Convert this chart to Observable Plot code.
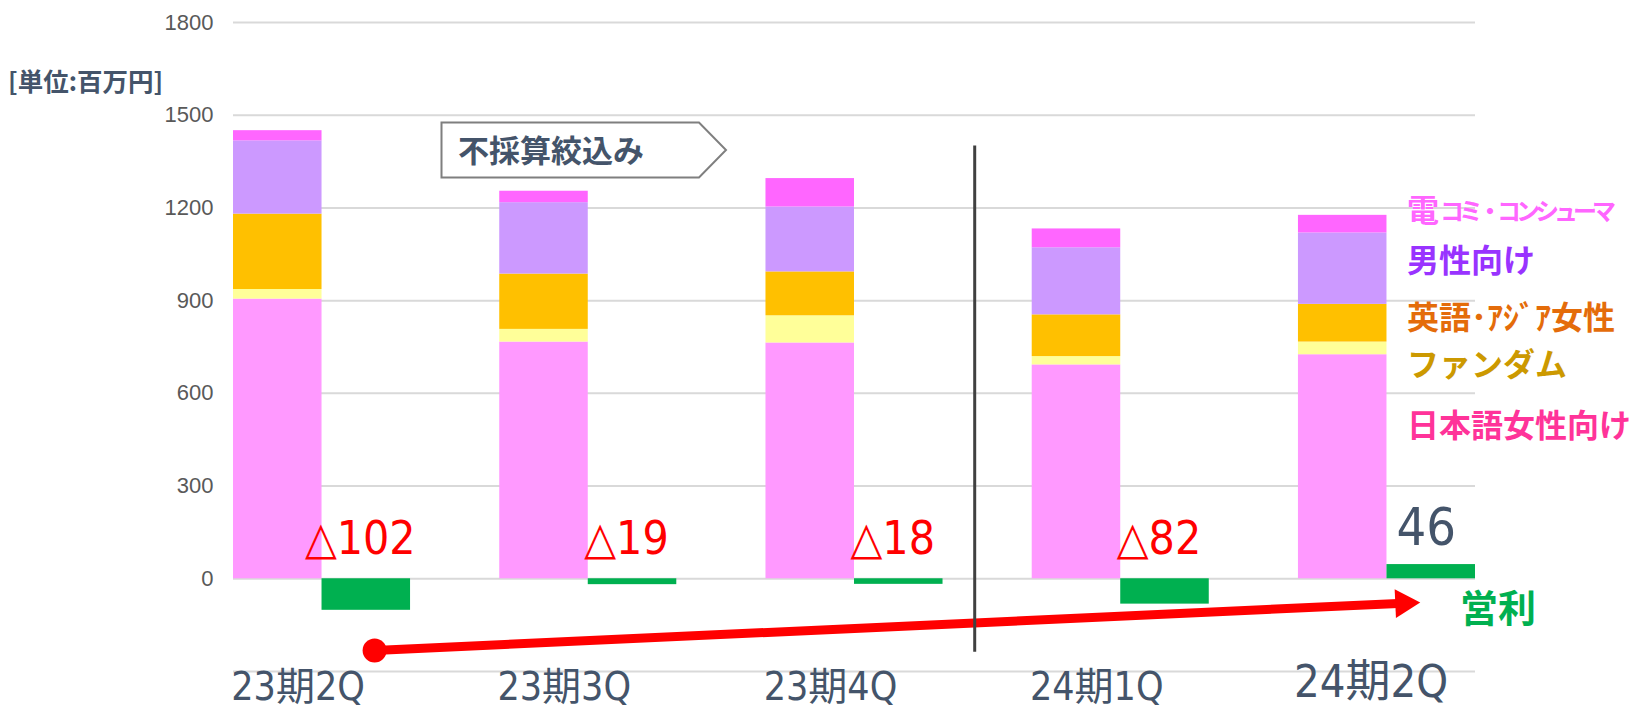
<!DOCTYPE html>
<html>
<head>
<meta charset="utf-8">
<script src="https://cdn.jsdelivr.net/npm/d3@7"></script>
<script src="https://cdn.jsdelivr.net/npm/@observablehq/plot@0.6"></script>
<style>
  html, body { margin: 0; padding: 0; background: #fff; }
  #wrap { position: relative; width: 1646px; height: 708px; overflow: hidden; }
  #unit { position: absolute; left: 8px; top: 61px; font: bold 25.5px "Noto Sans CJK JP", sans-serif; color: #44546A; }
  #callout { position: absolute; left: 440px; top: 121px; }
</style>
</head>
<body>
<div id="wrap">
  <div id="chart"></div>
  <div id="unit">[単位:百万円]</div>
  <svg id="callout" width="290" height="60">
    <path d="M1.5,1.5 H259 L286,29 L259,56.5 H1.5 Z" fill="#fff" stroke="#7F7F7F" stroke-width="2"/>
    <text x="18" y="41" font-family="Noto Sans CJK JP, sans-serif" font-weight="bold" font-size="31" fill="#44546A">不採算絞込み</text>
  </svg>
</div>
<script>
// ---- data ----
const quarters = ["23期2Q", "23期3Q", "23期4Q", "24期1Q", "24期2Q"];
const segments = ["日本語女性向け", "ファンダム", "英語・アジア女性", "男性向け", "電コミ・コンシューマ"];
const segmentColors = ["#FF99FF", "#FFFF99", "#FFC000", "#CC99FF", "#FF66FF"];
const jpWomen  = [905, 766, 763, 692, 725];
const fandom   = [31, 41, 88, 27, 41];
const engAsia  = [244, 179, 142, 135, 122];
const men      = [237, 231, 210, 217, 231];
const denComi  = [33, 37, 92, 61, 57];
const operatingProfit = [-102, -19, -18, -82, 46];
const legendLabels = ["日本語女性向け", "ファンダム", "英語･ｱｼﾞｱ女性", "男性向け", "電コミ・コンシューマ"];
const legendColors = ["#FF3399", "#CC9900", "#E46C0A", "#9933FF", "#FF66FF"];
const legendAnchorY = [492, 690, 842, 1027, 1188];
const profitLabel = "営利";
const yTicks = [0, 300, 600, 900, 1200, 1500, 1800];
const gridValues = [-300, 0, 300, 600, 900, 1200, 1500, 1800];
// annotation anchors (x in quarter-index units, y in 百万円)
const trendArrow = {x1: 0.530, y1: -232, x2: 4.395, y2: -79};
const dividerX = 2.784;
const dividerY = [-238, 1400];

// ---- build ----
const series = [jpWomen, fandom, engAsia, men, denComi];
const GROUP = 0.665, HALF = GROUP / 2;
const rows = quarters.flatMap((q, i) => segments.map((s, k) => ({q, i, seg: s, value: series[k][i]})));
const profitRows = quarters.map((q, i) => ({q, i, value: operatingProfit[i]}));
const fmtProfit = v => v < 0 ? "△" + Math.abs(v) : String(v);
const narrow = "Liberation Sans Narrow, DejaVu Sans Condensed, Noto Sans CJK JP, sans-serif";
const jp = "Noto Sans CJK JP, sans-serif";

const legendMarks = legendLabels.map((lab, k) => {
  if (k === 4) {
    return [
      Plot.text([lab[0]], {x: () => 4 + HALF, y: () => legendAnchorY[k], text: d => d, dx: 20, textAnchor: "start", lineAnchor: "middle", fill: legendColors[k], fontSize: 32, fontWeight: "bold", fontFamily: jp}),
      Plot.text([lab.slice(1)], {x: () => 4 + HALF, y: () => legendAnchorY[k], text: d => d, dx: 53, dy: 1, textAnchor: "start", lineAnchor: "middle", fill: legendColors[k], fontSize: 24, fontWeight: "bold", fontFamily: jp})
    ];
  }
  return Plot.text([lab], {x: () => 4 + HALF, y: () => legendAnchorY[k], text: d => d, dx: 20, textAnchor: "start", lineAnchor: "middle", fill: legendColors[k], fontSize: 32, fontWeight: "bold", fontFamily: jp});
}).flat();

const chart = Plot.plot({
  width: 1646,
  height: 708,
  marginLeft: 233,
  marginRight: 171,
  marginTop: 22,
  marginBottom: 37,
  style: {fontFamily: "Liberation Sans, Arial, sans-serif", fontSize: "22px", color: "#595959", background: "transparent", overflow: "visible"},
  x: {domain: [0, 4 + GROUP], axis: null},
  y: {domain: [-300, 1800], ticks: yTicks, tickFormat: d => String(d), tickSize: 0, tickPadding: 20, label: null},
  color: {domain: segments, range: segmentColors},
  marks: [
    Plot.ruleY(gridValues, {stroke: "#D9D9D9", strokeWidth: 2}),
    Plot.rectY(rows, {x1: "i", x2: d => d.i + HALF, y: "value", fill: "seg", order: segments}),
    Plot.rectY(profitRows, {x1: d => d.i + HALF, x2: d => d.i + GROUP, y1: 0, y2: "value", fill: "#00B050"}),
    Plot.text(profitRows.filter(d => d.value < 0), {x: d => d.i + HALF * 1.5, y: 0, text: d => fmtProfit(d.value), dx: -6, dy: -40, lineAnchor: "middle", fill: "#FF0000", fontSize: 46, fontFamily: narrow}),
    Plot.text(profitRows.filter(d => d.value >= 0), {x: d => d.i + HALF * 1.5, y: "value", text: d => fmtProfit(d.value), dx: -5, dy: -36, lineAnchor: "middle", fill: "#44546A", fontSize: 52, fontFamily: narrow}),
    Plot.link([trendArrow], {x1: "x1", y1: "y1", x2: "x2", y2: "y2", stroke: "#FF0000", strokeWidth: 9}),
    Plot.dot([trendArrow], {x: "x1", y: "y1", r: 12, fill: "#FF0000"}),
    Plot.dot([trendArrow], {x: "x2", y: "y2", r: 10.7, symbol: "triangle", rotate: 87.4, fill: "#FF0000"}),
    Plot.ruleX([dividerX], {y1: dividerY[0], y2: dividerY[1], stroke: "#404040", strokeWidth: 3}),
    Plot.text(quarters.slice(0, 4), {x: (d, i) => i + HALF, y: -300, text: d => d, dx: -24, dy: 28, lineAnchor: "bottom", fill: "#44546A", fontSize: 39, fontFamily: narrow}),
    Plot.text(quarters.slice(4), {x: () => 4 + HALF, y: -300, text: d => d, dx: -16, dy: 25, lineAnchor: "bottom", fill: "#44546A", fontSize: 45, fontFamily: narrow}),
    Plot.text([profitLabel], {x: () => 4 + HALF, y: -100, text: d => d, dx: 73, textAnchor: "start", lineAnchor: "middle", fill: "#00B050", fontSize: 38, fontWeight: "bold", fontFamily: jp}),
    ...legendMarks
  ]
});
document.getElementById("chart").appendChild(chart);
d3.select(chart).selectAll("text").filter(function() { return this.textContent === "コミ・コンシューマ"; }).attr("letter-spacing", -5);
</script>
</body>
</html>
